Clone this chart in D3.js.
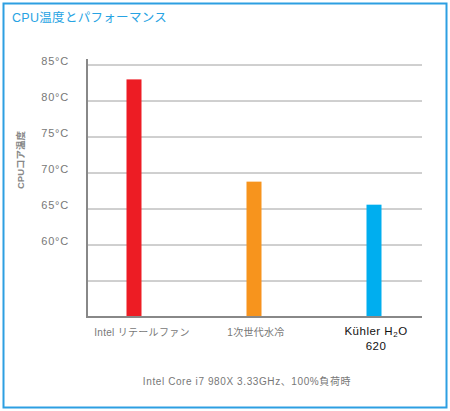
<!DOCTYPE html>
<html>
<head>
<meta charset="utf-8">
<script src="https://cdn.jsdelivr.net/npm/d3@7"></script>
<style>
  body { margin: 0; background: #fff; }
  text { font-family: "Liberation Sans", "Noto Sans CJK JP", sans-serif; }
</style>
</head>
<body>
<div id="chart"></div>
<script>
const categories = ["Intel リテールファン", "1次世代水冷", "Kühler H2O 620"]
const temps = [83.0, 68.8, 65.6]
const barColors = ["#ed1c24", "#f7941d", "#00aeef"]
const tickValues = [50, 55, 60, 65, 70, 75, 80, 85]
const tickLabels = ["", "", "60°C", "65°C", "70°C", "75°C", "80°C", "85°C"]

const width = 450
const height = 411

const svg = d3.select("#chart").append("svg")
  .attr("width", width)
  .attr("height", height)

// frame
svg.append("rect")
  .attr("x", 3.5).attr("y", 3.5)
  .attr("width", 443).attr("height", 404)
  .attr("fill", "none")
  .attr("stroke", "#2d9fe2")
  .attr("stroke-width", 2)

svg.append("text")
  .attr("x", 12).attr("y", 22)
  .attr("font-size", 12.5)
  .attr("letter-spacing", 0.3)
  .attr("fill", "#27a3e3")
  .text("CPU温度とパフォーマンス")

const yScale = d3.scaleLinear()
  .domain([50, 85])
  .range([317, 65])

const xScale = d3.scaleBand()
  .domain(categories)
  .range([74, 434])

const barWidth = 15

// gridlines
svg.append("g")
  .selectAll("line")
  .data(tickValues.slice(1))
  .enter()
  .append("line")
    .attr("x1", 87).attr("x2", 422)
    .attr("y1", d => yScale(d)).attr("y2", d => yScale(d))
    .attr("stroke", "#a0a0a0")
    .attr("stroke-width", 1)

// tick labels
svg.append("g")
  .selectAll("text")
  .data(tickValues)
  .enter()
  .append("text")
    .attr("x", 69)
    .attr("y", d => yScale(d) - 4)
    .attr("dy", "0.35em")
    .attr("text-anchor", "end")
    .attr("font-size", 11)
    .attr("letter-spacing", 0.8)
    .attr("fill", "#777")
    .text((d, i) => tickLabels[i])

// bars
svg.append("g")
  .selectAll("rect")
  .data(temps)
  .enter()
  .append("rect")
    .attr("x", (d, i) => xScale(categories[i]) + xScale.bandwidth() / 2 - barWidth / 2)
    .attr("y", d => yScale(d))
    .attr("width", barWidth)
    .attr("height", d => yScale(50) - yScale(d))
    .attr("fill", (d, i) => barColors[i])

// axes lines
svg.append("line")
  .attr("x1", 87).attr("x2", 87)
  .attr("y1", 59).attr("y2", yScale(50))
  .attr("stroke", "#888").attr("stroke-width", 2)
svg.append("line")
  .attr("x1", 86).attr("x2", 422)
  .attr("y1", yScale(50)).attr("y2", yScale(50))
  .attr("stroke", "#888").attr("stroke-width", 2)

// category labels
const cx = i => xScale(categories[i]) + xScale.bandwidth() / 2
svg.append("text")
  .attr("x", cx(0) + 8).attr("y", 336)
  .attr("text-anchor", "middle")
  .attr("font-size", 10)
  .attr("letter-spacing", 0.3)
  .attr("fill", "#777")
  .text(categories[0])
svg.append("text")
  .attr("x", cx(1) + 2).attr("y", 336)
  .attr("text-anchor", "middle")
  .attr("font-size", 10)
  .attr("letter-spacing", 0.3)
  .attr("fill", "#777")
  .text(categories[1])

const k = svg.append("text")
  .attr("x", cx(2) + 2).attr("y", 335)
  .attr("text-anchor", "middle")
  .attr("font-size", 11.5)
  .attr("letter-spacing", 0.5)
  .attr("fill", "#111")
k.append("tspan").text("Kühler H")
k.append("tspan").attr("font-size", 8).attr("dy", 2).text("2")
k.append("tspan").attr("dy", -2).text("O")
svg.append("text")
  .attr("x", cx(2) + 2).attr("y", 350)
  .attr("text-anchor", "middle")
  .attr("font-size", 11.5)
  .attr("letter-spacing", 0.5)
  .attr("fill", "#111")
  .text("620")

// y title
svg.append("text")
  .attr("transform", "translate(24,160) rotate(-90)")
  .attr("text-anchor", "middle")
  .attr("font-size", 9.5)
  .attr("font-weight", "bold")
  .attr("fill", "#888")
  .text("CPUコア温度")

svg.append("text")
  .attr("x", 247).attr("y", 385)
  .attr("text-anchor", "middle")
  .attr("font-size", 10)
  .attr("letter-spacing", 0.6)
  .attr("fill", "#777")
  .text("Intel Core i7 980X 3.33GHz、100%負荷時")
</script>
</body>
</html>
